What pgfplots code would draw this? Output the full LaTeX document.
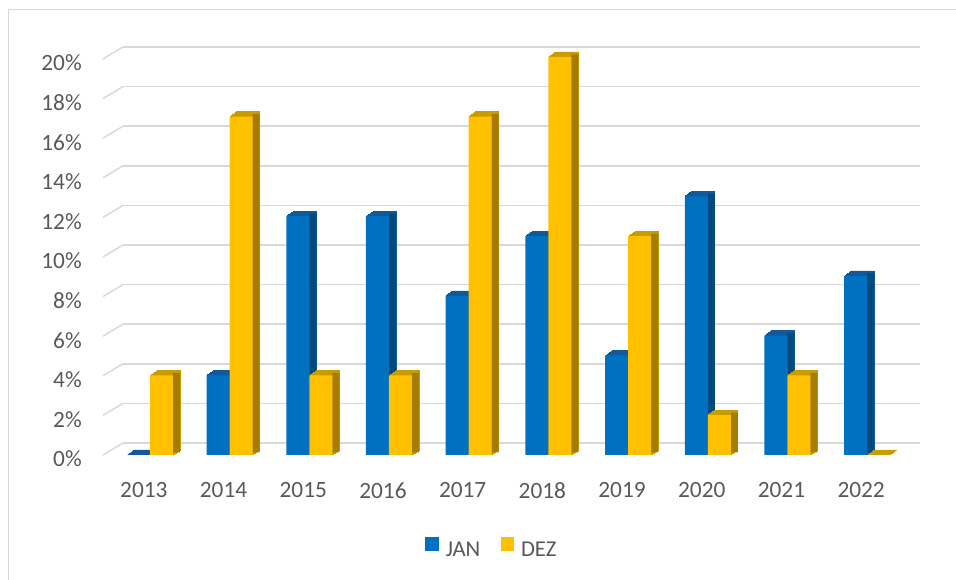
\documentclass[border=0pt]{standalone}
\usepackage{fontspec}
\setmainfont{Carlito}
\usepackage{pgfplots}
\usepackage{pgfplotstable}
\pgfplotsset{compat=1.18}
\definecolor{txt}{HTML}{595959}
\definecolor{gridcol}{HTML}{D9D9D9}
\definecolor{bluefront}{HTML}{0070C0}
\definecolor{bluetop}{HTML}{105A9C}
\definecolor{blueside}{HTML}{004A80}
\definecolor{goldfront}{HTML}{FFC000}
\definecolor{goldtop}{HTML}{C89B00}
\definecolor{goldside}{HTML}{A67C00}
\pgfplotstableread{
x jan dez
0 0 4
1 4 17
2 12 4
3 12 4
4 8 17
5 11 20
6 5 11
7 13 2
8 6 4
9 9 0
}\data
\begin{document}
\begin{tikzpicture}
\useasboundingbox (0,0) rectangle (717pt,435pt);
\draw[gridcol, line width=0.75pt] (6pt,0) -- (6pt,427.5pt) -- (717pt,427.5pt);
% back wall gridlines
\begin{axis}[at={(92.25pt,102.75pt)}, anchor=south west, scale only axis,
  width=597.75pt, height=297pt, xmin=0, xmax=1, ymin=0, ymax=20,
  xtick=\empty, ytick={0,2,...,20},
  yticklabels={0\%,2\%,4\%,6\%,8\%,10\%,12\%,14\%,16\%,18\%,20\%},
  ymajorgrids, grid style={gridcol, line width=1.1pt},
  axis line style={draw=none}, major tick length=0pt,
  yticklabel style={anchor=east, inner sep=0pt, xshift=-30.75pt, yshift=-12pt,
    font=\fontsize{17.5}{20}\selectfont, text=txt},
  clip=false]
\pgfplotsinvokeforeach{0,2,...,20}{\draw[gridcol,line width=1.1pt] (axis cs:0,#1) -- ++(-15pt,-9pt);}
\end{axis}
% bars
\begin{axis}[at={(82.5pt,93.75pt)}, anchor=south west, scale only axis,
  width=597.75pt, height=298.5pt, xmin=-0.5, xmax=9.5, ymin=0, ymax=20,
  ybar, bar width=17.25pt, clip=false,
  axis line style={draw=none}, major tick length=0pt, ytick=\empty,
  xtick={0,...,9}, xticklabels={2013,2014,2015,2016,2017,2018,2019,2020,2021,2022},
  xticklabel style={anchor=north, inner sep=0pt, yshift=-20.25pt, xshift=-4.5pt,
    font=\fontsize{17.5}{20}\selectfont, text=txt},
  legend style={at={(0.478,-0.234)}, anchor=center, draw=none, legend columns=-1,
    font=\fontsize{17}{20}\selectfont, text=txt, nodes={inner sep=0pt},
    /tikz/every odd column/.append style={column sep=5.25pt},
    /tikz/every even column/.append style={column sep=15.25pt}},
  legend image code/.code={\fill[#1] (0pt,0pt) rectangle (10pt,9.8pt);}]
% JAN
\pgfplotsinvokeforeach{1,...,7}{
  \addplot[forget plot, fill=bluetop, draw=bluetop, line width=0.4pt, bar shift=-8.625pt,
    xshift=#1*0.75pt, yshift=#1*0.536pt] table[x=x,y=jan]{\data};
}
\addplot[forget plot, fill=blueside, draw=none, bar width=5.25pt, bar shift=2.625pt,
  yshift=1.875pt] table[x=x,y=jan]{\data};
\addplot[fill=bluefront, draw=none, bar shift=-8.625pt] table[x=x,y=jan]{\data};
\addlegendentry{JAN}
% DEZ
\pgfplotsinvokeforeach{1,...,7}{
  \addplot[forget plot, fill=goldtop, draw=goldtop, line width=0.4pt, bar shift=8.625pt,
    xshift=#1*0.75pt, yshift=#1*0.536pt] table[x=x,y=dez]{\data};
}
\addplot[forget plot, fill=goldside, draw=none, bar width=5.25pt, bar shift=19.875pt,
  yshift=1.875pt] table[x=x,y=dez]{\data};
\addplot[fill=goldfront, draw=none, bar shift=8.625pt] table[x=x,y=dez]{\data};
\addlegendentry{DEZ}
\end{axis}
\end{tikzpicture}
\end{document}
